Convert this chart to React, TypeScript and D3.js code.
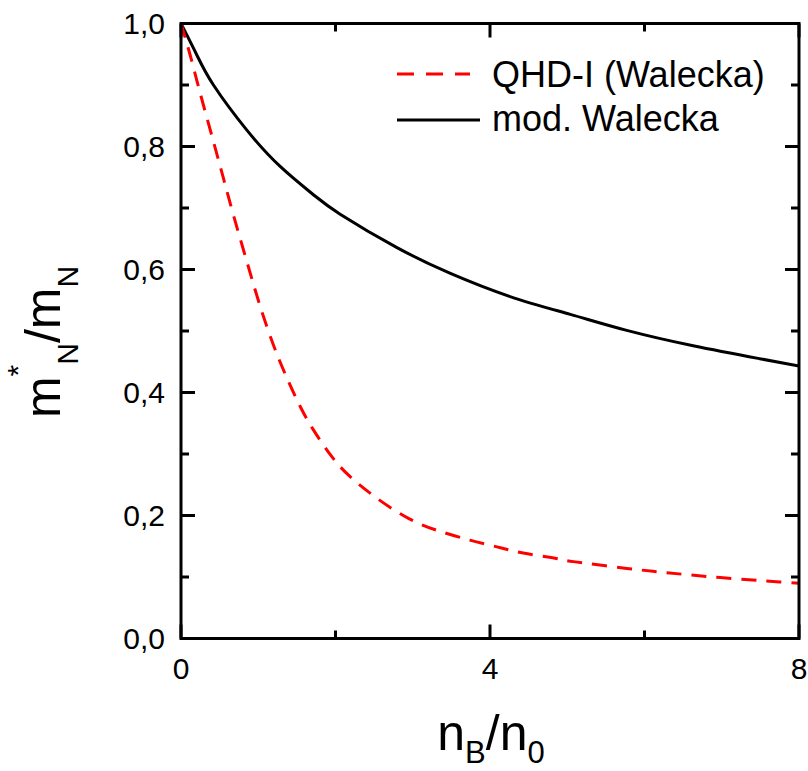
import React from "react";
import * as d3 from "d3";

const modX = [0, 0.2, 0.42, 0.85, 1.28, 1.71, 2.06, 2.79, 3.48, 4.26, 5.04, 5.77, 6.63, 7.49, 8];
const modY = [1.0, 0.95, 0.9, 0.827, 0.768, 0.722, 0.69, 0.636, 0.594, 0.556, 0.527, 0.501, 0.476, 0.455, 0.443];

const qhdX = [0, 0.12, 0.25, 0.42, 0.55, 0.68, 0.85, 1.02, 1.2, 1.37, 1.54, 1.71, 1.95, 2.2, 2.57, 2.95, 3.31, 3.74, 4.09, 4.43, 4.86, 5.08, 5.77, 6.29, 6.98, 7.75, 8];
const qhdY = [1.0, 0.948, 0.886, 0.808, 0.748, 0.688, 0.614, 0.542, 0.476, 0.424, 0.378, 0.34, 0.296, 0.262, 0.225, 0.195, 0.176, 0.16, 0.149, 0.139, 0.13, 0.125, 0.114, 0.107, 0.099, 0.092, 0.09];

const xMajor = [0, 4, 8];
const xMinor = [2, 6];
const yMajor = [0, 0.2, 0.4, 0.6, 0.8, 1.0];
const yMinor = [0.1, 0.3, 0.5, 0.7, 0.9];
const legendLabels = ["QHD-I (Walecka)", "mod. Walecka"];

const FONT = "'Liberation Sans', Arial, Helvetica, sans-serif";

export default function App() {
  const left = 181, right = 799, top = 23.5, bottom = 638.5;
  const x = d3.scaleLinear().domain([0, 8]).range([left, right]);
  const y = d3.scaleLinear().domain([0, 1]).range([bottom, top]);
  const line = d3.line<[number, number]>().x(d => x(d[0])).y(d => y(d[1])).curve(d3.curveNatural);
  const modPath = line(modX.map((v, i) => [v, modY[i]]) as [number, number][]) || "";
  const qhdPath = line(qhdX.map((v, i) => [v, qhdY[i]]) as [number, number][]) || "";
  const fmt = (v: number) => v.toFixed(1).replace(".", ",");
  const MAJ = 14, MIN = 8;

  return (
    <svg width={808} height={771} style={{ position: "absolute", left: 0, top: 0, background: "#fff" }} fontFamily={FONT}>
      <defs>
        <clipPath id="plot">
          <rect x={left} y={top} width={right - left} height={bottom - top} />
        </clipPath>
      </defs>
      <g clipPath="url(#plot)">
        <path d={modPath} fill="none" stroke="#000" strokeWidth={3} />
        <path d={qhdPath} fill="none" stroke="#ff0000" strokeWidth={3} strokeDasharray="15,10" />
      </g>
      <g stroke="#000" strokeWidth={3}>
        {xMajor.map(v => (
          <g key={"xm" + v}>
            <line x1={x(v)} x2={x(v)} y1={bottom} y2={bottom - MAJ} />
            <line x1={x(v)} x2={x(v)} y1={top} y2={top + MAJ} />
          </g>
        ))}
        {xMinor.map(v => (
          <g key={"xn" + v}>
            <line x1={x(v)} x2={x(v)} y1={bottom} y2={bottom - MIN} />
            <line x1={x(v)} x2={x(v)} y1={top} y2={top + MIN} />
          </g>
        ))}
        {yMajor.map(v => (
          <g key={"ym" + v}>
            <line x1={left} x2={left + MAJ} y1={y(v)} y2={y(v)} />
            <line x1={right} x2={right - MAJ} y1={y(v)} y2={y(v)} />
          </g>
        ))}
        {yMinor.map(v => (
          <g key={"yn" + v}>
            <line x1={left} x2={left + MIN} y1={y(v)} y2={y(v)} />
            <line x1={right} x2={right - MIN} y1={y(v)} y2={y(v)} />
          </g>
        ))}
      </g>
      <rect x={left} y={top} width={right - left} height={bottom - top} fill="none" stroke="#000" strokeWidth={3} />
      {yMajor.map(v => (
        <text key={"yl" + v} x={165} y={y(v)} dy="0.36em" textAnchor="end" fontSize={30} fill="#000">{fmt(v)}</text>
      ))}
      {xMajor.map(v => (
        <text key={"xl" + v} x={x(v)} y={679} textAnchor="middle" fontSize={30} fill="#000">{v}</text>
      ))}
      <text x={491} y={750} textAnchor="middle" fontSize={50} fill="#000">
        n<tspan fontSize={31} dy={13}>B</tspan><tspan dy={-13}>/n</tspan><tspan fontSize={31} dy={13}>0</tspan>
      </text>
      <text transform="translate(60,342) rotate(-90)" textAnchor="middle" fontSize={50} fill="#000">
        m<tspan fontSize={30} dy={-32}>*</tspan><tspan fontSize={30} dy={50}>N</tspan><tspan dy={-18}>/m</tspan><tspan fontSize={30} dy={18}>N</tspan>
      </text>
      <line x1={397} x2={470} y1={74} y2={74} stroke="#ff0000" strokeWidth={3} strokeDasharray="17,12" />
      <text x={492} y={87} fontSize={36} fill="#000">{legendLabels[0]}</text>
      <line x1={397} x2={480} y1={120} y2={120} stroke="#000" strokeWidth={3} />
      <text x={492} y={131} fontSize={36} fill="#000">{legendLabels[1]}</text>
    </svg>
  );
}
